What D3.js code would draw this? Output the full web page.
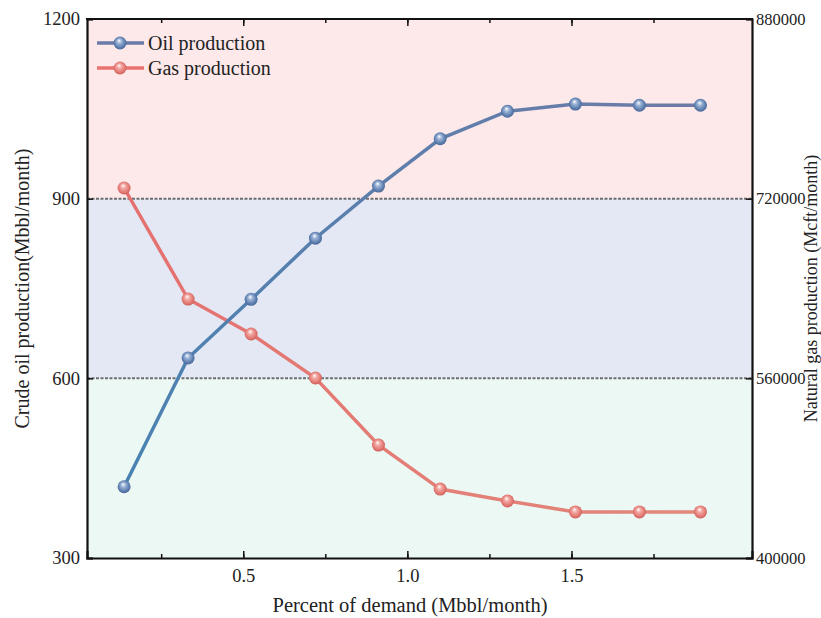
<!DOCTYPE html>
<html>
  <head>
    <meta charset="utf-8" />
    <title>Oil and gas production</title>
    <script src="https://d3js.org/d3.v7.min.js"></script>
    <style>
      body{
        margin: 0;
        background: white;
        font-family: 'Liberation Serif', 'Times New Roman', serif;
      }
    </style>
  </head>
  <body>
    <svg id="chart"></svg>
    <script>
      // data
      var demand = [0.137, 0.332, 0.524, 0.72, 0.912, 1.10, 1.305, 1.512, 1.707, 1.893];
      var oilProduction = [419, 634, 732, 834, 921, 1000, 1046, 1058, 1056, 1056];
      var gasProduction = [729500, 630600, 599500, 560300, 500600, 461400, 450800, 441000, 441000, 441000];
      var oilTicks = [300, 600, 900, 1200];
      var gasTicks = [400000, 560000, 720000, 880000];
      var demandTicks = [0.5, 1.0, 1.5];
      var bands = [
        { from: 900, to: 1200, color: "#fde8ea" },
        { from: 600, to: 900, color: "#e4e8f5" },
        { from: 300, to: 600, color: "#ecf8f4" }
      ];

      var width = 821;
      var height = 618;
      var margin = { top: 19, right: 69, bottom: 60, left: 87 };

      var svg = d3.select("#chart")
        .attr("width", width)
        .attr("height", height);

      var x = d3.scaleLinear()
        .domain([0.024, 2.05])
        .range([margin.left, width - margin.right]);

      var yOil = d3.scaleLinear()
        .domain([300, 1200])
        .range([height - margin.bottom, margin.top]);

      var yGas = d3.scaleLinear()
        .domain([400000, 880000])
        .range([height - margin.bottom, margin.top]);

      var defs = svg.append("defs");

      function sphere(id, light, base, dark) {
        var g = defs.append("radialGradient")
          .attr("id", id)
          .attr("cx", "50%").attr("cy", "50%")
          .attr("fx", "42%").attr("fy", "30%")
          .attr("r", "60%");
        g.append("stop").attr("offset", "0%").attr("stop-color", "#ffffff");
        g.append("stop").attr("offset", "30%").attr("stop-color", light);
        g.append("stop").attr("offset", "70%").attr("stop-color", base);
        g.append("stop").attr("offset", "100%").attr("stop-color", dark);
      }

      function lineGrad(id, c0, c1) {
        var g = defs.append("linearGradient")
          .attr("id", id)
          .attr("gradientUnits", "userSpaceOnUse")
          .attr("x1", x(demand[0])).attr("x2", x(demand[demand.length - 1]))
          .attr("y1", 0).attr("y2", 0);
        g.append("stop").attr("offset", "0%").attr("stop-color", c0);
        g.append("stop").attr("offset", "50%").attr("stop-color", d3.interpolateRgb(c0, c1)(0.6));
        g.append("stop").attr("offset", "100%").attr("stop-color", c1);
      }

      sphere("oilBall", "#9bb3d6", "#5a7cad", "#3f5a86");
      sphere("gasBall", "#f2a9a3", "#e27570", "#b8534f");
      lineGrad("oilLine", "#4a82b2", "#6d7ba6");
      lineGrad("gasLine", "#e4706f", "#e2887a");

      // background bands
      svg.selectAll(".band")
        .data(bands)
        .enter()
        .append("rect")
        .attr("class", "band")
        .attr("x", margin.left)
        .attr("width", width - margin.right - margin.left)
        .attr("y", function (d) { return yOil(d.to); })
        .attr("height", function (d) { return yOil(d.from) - yOil(d.to); })
        .attr("fill", function (d) { return d.color; });

      svg.selectAll(".refline")
        .data([600, 900])
        .enter()
        .append("line")
        .attr("class", "refline")
        .attr("x1", margin.left)
        .attr("x2", width - margin.right)
        .attr("y1", function (d) { return yOil(d); })
        .attr("y2", function (d) { return yOil(d); })
        .attr("stroke", "#6e6e6e")
        .attr("stroke-width", 2)
        .attr("stroke-dasharray", "3,1.5");

      // series
      var oilLine = d3.line()
        .x(function (d, i) { return x(demand[i]); })
        .y(function (d) { return yOil(d); });

      var gasLine = d3.line()
        .x(function (d, i) { return x(demand[i]); })
        .y(function (d) { return yGas(d); });

      svg.append("path")
        .datum(gasProduction)
        .attr("d", gasLine)
        .attr("fill", "none")
        .attr("stroke", "url(#gasLine)")
        .attr("stroke-width", 3.5);

      svg.append("path")
        .datum(oilProduction)
        .attr("d", oilLine)
        .attr("fill", "none")
        .attr("stroke", "url(#oilLine)")
        .attr("stroke-width", 3.5);

      svg.selectAll(".gasPt")
        .data(gasProduction)
        .enter()
        .append("circle")
        .attr("class", "gasPt")
        .attr("cx", function (d, i) { return x(demand[i]); })
        .attr("cy", function (d) { return yGas(d); })
        .attr("r", 6.5)
        .attr("fill", "url(#gasBall)");

      svg.selectAll(".oilPt")
        .data(oilProduction)
        .enter()
        .append("circle")
        .attr("class", "oilPt")
        .attr("cx", function (d, i) { return x(demand[i]); })
        .attr("cy", function (d) { return yOil(d); })
        .attr("r", 6.5)
        .attr("fill", "url(#oilBall)");

      // axes
      var bottomY = height - margin.bottom;
      var minor = d3.range(0.25, 2.0, 0.25);

      svg.append("g")
        .attr("transform", "translate(0," + bottomY + ")")
        .call(d3.axisBottom(x).tickValues(minor).tickSize(-4).tickFormat(""))
        .call(function (g) { g.select(".domain").remove(); });

      var xAxis = svg.append("g")
        .attr("transform", "translate(0," + bottomY + ")")
        .call(d3.axisBottom(x).tickValues(demandTicks).tickSize(-7).tickPadding(11).tickFormat(d3.format(".1f")));

      svg.append("g")
        .attr("transform", "translate(0," + margin.top + ")")
        .call(d3.axisTop(x).tickValues(minor).tickSize(-4).tickFormat(""))
        .call(function (g) { g.select(".domain").remove(); });

      svg.append("g")
        .attr("transform", "translate(0," + margin.top + ")")
        .call(d3.axisTop(x).tickValues(demandTicks).tickSize(-7).tickFormat(""))
        .call(function (g) { g.select(".domain").remove(); });

      var leftAxis = svg.append("g")
        .attr("transform", "translate(" + margin.left + ",0)")
        .call(d3.axisLeft(yOil).tickValues(oilTicks).tickSize(-6).tickPadding(7).tickFormat(d3.format("d")));

      var rightAxis = svg.append("g")
        .attr("transform", "translate(" + (width - margin.right) + ",0)")
        .call(d3.axisRight(yGas).tickValues(gasTicks).tickSize(-6).tickPadding(4).tickFormat(d3.format("d")));

      [xAxis, leftAxis, rightAxis].forEach(function (a) {
        a.select(".domain").attr("stroke-width", 2.2).attr("stroke", "#111");
        a.selectAll("text")
          .attr("font-family", "'Liberation Serif', serif")
          .attr("font-size", 18.5)
          .attr("fill", "#222");
      });
      rightAxis.selectAll("text").attr("font-size", 16.5);

      svg.selectAll(".tick line").attr("stroke", "#111").attr("stroke-width", 1.5);

      // top border
      svg.append("line")
        .attr("x1", margin.left - 1)
        .attr("x2", width - margin.right + 1)
        .attr("y1", margin.top)
        .attr("y2", margin.top)
        .attr("stroke", "#111")
        .attr("stroke-width", 2.2);

      // titles
      svg.append("text")
        .attr("x", 410)
        .attr("y", 612)
        .attr("text-anchor", "middle")
        .attr("font-size", 20.5)
        .attr("fill", "#222")
        .text("Percent of demand (Mbbl/month)");

      svg.append("text")
        .attr("transform", "translate(29," + (margin.top + bottomY) / 2 + ") rotate(-90)")
        .attr("text-anchor", "middle")
        .attr("font-size", 20)
        .attr("fill", "#222")
        .text("Crude oil production(Mbbl/month)");

      svg.append("text")
        .attr("transform", "translate(817," + (margin.top + bottomY) / 2 + ") rotate(-90)")
        .attr("text-anchor", "middle")
        .attr("font-size", 18)
        .attr("fill", "#222")
        .text("Natural gas production (Mcft/month)");

      // legend
      var legendItems = [
        { name: "Oil production", color: "#6b7ba8", ball: "url(#oilBall)" },
        { name: "Gas production", color: "#e8736f", ball: "url(#gasBall)" }
      ];

      var legend = svg.selectAll(".legend")
        .data(legendItems)
        .enter()
        .append("g")
        .attr("class", "legend")
        .attr("transform", function (d, i) { return "translate(97," + (43 + i * 25) + ")"; });

      legend.append("line")
        .attr("x1", 0).attr("x2", 47)
        .attr("stroke", function (d) { return d.color; })
        .attr("stroke-width", 3.5);

      legend.append("circle")
        .attr("cx", 23)
        .attr("r", 6.5)
        .attr("fill", function (d) { return d.ball; });

      legend.append("text")
        .attr("x", 51)
        .attr("y", 6.5)
        .attr("font-size", 20)
        .attr("fill", "#222")
        .text(function (d) { return d.name; });
    </script>
  </body>
</html>
